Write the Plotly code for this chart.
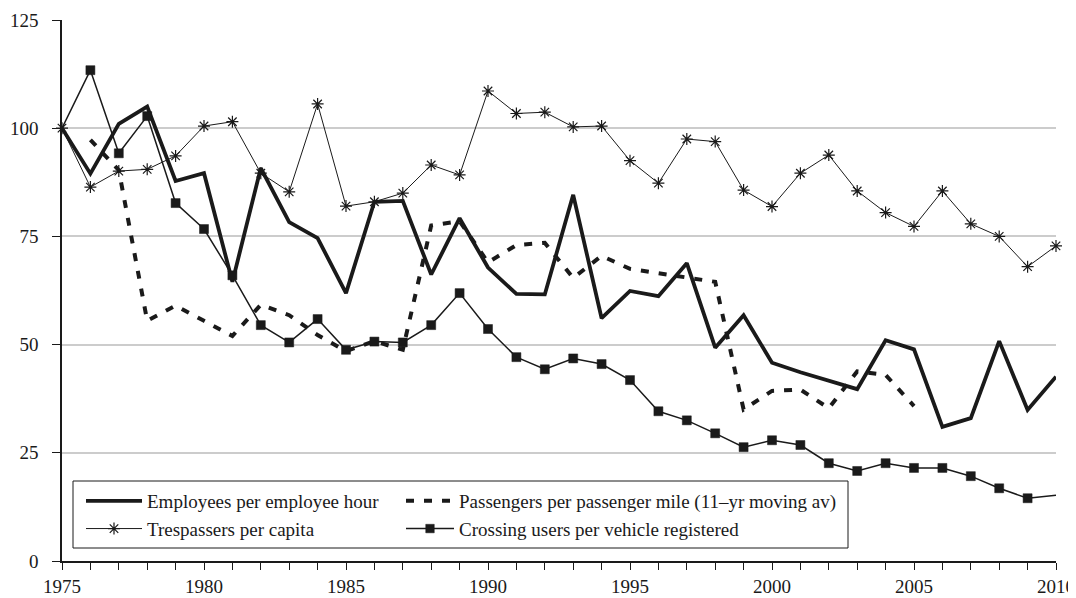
import plotly.graph_objects as go

years = list(range(1975, 2011))

employees = [100, 89.5, 101, 105, 87.8, 89.6, 64.5, 90.8, 78.3, 74.6,
             61.9, 83, 83.2, 66.2, 79.2, 67.8, 61.7, 61.6, 84.6, 56.1,
             62.4, 61.2, 68.8, 49.3, 56.8, 45.8, 43.6, 41.6, 39.7, 51,
             48.9, 31, 33, 50.8, 34.9, 42.6]

passengers = [None, 97.3, 90.3, 55.5, 59, 55.5, 52, 59.2, 56.8, 52.2,
              48.5, 50.8, 48.8, 77.5, 78.5, 69, 73, 73.5, 65.4, 70.5,
              67.5, 66.5, 65.5, 64.5, 35, 39.3, 39.6, 35.3, 43.8, 43,
              35.8, None, None, None, None, None]

trespassers = [100, 86.4, 90.1, 90.5, 93.6, 100.5, 101.5, 89.6, 85.3, 105.6,
               82, 83, 85, 91.5, 89.2, 108.6, 103.4, 103.7, 100.3, 100.5,
               92.5, 87.3, 97.5, 96.9, 85.7, 81.9, 89.6, 93.8, 85.5, 80.5,
               77.3, 85.5, 77.9, 75, 68, 72.8]

crossing = [100, 113.4, 94.2, 102.8, 82.7, 76.7, 66, 54.5, 50.5, 55.9,
            48.8, 50.7, 50.5, 54.5, 61.9, 53.6, 47.1, 44.3, 46.8, 45.5,
            41.8, 34.6, 32.5, 29.5, 26.3, 27.9, 26.8, 22.6, 20.8, 22.6,
            21.5, 21.5, 19.6, 16.8, 14.5, 15.2]

names = ["Employees per employee hour",
         "Passengers per passenger mile (11\u2013yr moving av)",
         "Trespassers per capita",
         "Crossing users per vehicle registered"]

x_ticktext = [str(y) if y % 5 == 0 else "" for y in years]

INK = "#1a1a1a"
FONT = "Liberation Serif"

fig = go.Figure()

fig.add_trace(go.Scatter(
    x=years, y=employees, name=names[0], mode="lines",
    line=dict(color=INK, width=3.8), legend="legend", cliponaxis=False))

fig.add_trace(go.Scatter(
    x=years, y=passengers, name=names[1], mode="lines",
    line=dict(color=INK, width=4, dash="8px,10px"), legend="legend2",
    cliponaxis=False))

fig.add_trace(go.Scatter(
    x=years, y=trespassers, name=names[2], mode="lines+markers",
    line=dict(color=INK, width=1),
    marker=dict(symbol="asterisk-open", size=10, color=INK, opacity=1,
                line=dict(color=INK, width=1.2)),
    legend="legend", cliponaxis=False))

sq_sizes = [9] * len(years)
sq_sizes[0] = 0
sq_sizes[-1] = 0
fig.add_trace(go.Scatter(
    x=years, y=crossing, name=names[3], mode="lines+markers",
    line=dict(color=INK, width=1.5),
    marker=dict(symbol="square", size=sq_sizes, color=INK, opacity=1,
                line=dict(color=INK, width=0.5)),
    legend="legend2", cliponaxis=False))

# the page body has an 8px default margin, so the figure is made 8px
# smaller and its margins shifted so the plot area lands at 62..1056 x 20..561
OFF = 8
W, H = 1076 - OFF, 598 - OFF
ml, mr, mt, mb = 62 - OFF, 20, 20 - OFF, 37
PX0, PY1 = 62, 561          # plot-area left / bottom in page pixels
pw, ph = W - ml - mr, H - mt - mb


def px_x(p):
    return (p - PX0) / pw


def px_y(p):
    return (PY1 - p) / ph


legend_common = dict(
    orientation="v", bgcolor="rgba(0,0,0,0)", borderwidth=0,
    font=dict(family=FONT, size=19, color=INK),
    xanchor="left", yanchor="top", tracegroupgap=0)

fig.update_layout(
    template="none",
    width=W, height=H,
    margin=dict(l=ml, r=mr, t=mt, b=mb, autoexpand=False),
    paper_bgcolor="white", plot_bgcolor="white",
    font=dict(family=FONT, color=INK),
    showlegend=True,
    legend=dict(x=px_x(81), y=px_y(482), itemwidth=56, **legend_common),
    legend2=dict(x=px_x(401), y=px_y(482), itemwidth=48, **legend_common),
    shapes=[dict(type="rect", xref="paper", yref="paper",
                 x0=px_x(73), x1=px_x(848), y0=px_y(548), y1=px_y(481),
                 line=dict(color=INK, width=1), fillcolor="white",
                 layer="above")],
    xaxis=dict(range=[1975, 2010], tickmode="array", tickvals=years,
               ticktext=x_ticktext, ticks="outside", ticklen=7,
               tickwidth=1.3, tickcolor=INK, showline=True, linecolor=INK,
               linewidth=1.5, showgrid=False, zeroline=False,
               automargin=False,
               tickfont=dict(family=FONT, size=19, color=INK),
               ticklabelstandoff=0),
    yaxis=dict(range=[0, 125], tickmode="linear", tick0=0, dtick=25,
               ticks="outside", ticklen=8, tickwidth=1.3, tickcolor=INK,
               showline=True, linecolor=INK, linewidth=1.5,
               showgrid=True, gridcolor="#cccccc", gridwidth=1.5,
               zeroline=False, automargin=False,
               tickfont=dict(family=FONT, size=19, color=INK),
               ticklabelstandoff=10),
)

fig.write_html("out.html")
